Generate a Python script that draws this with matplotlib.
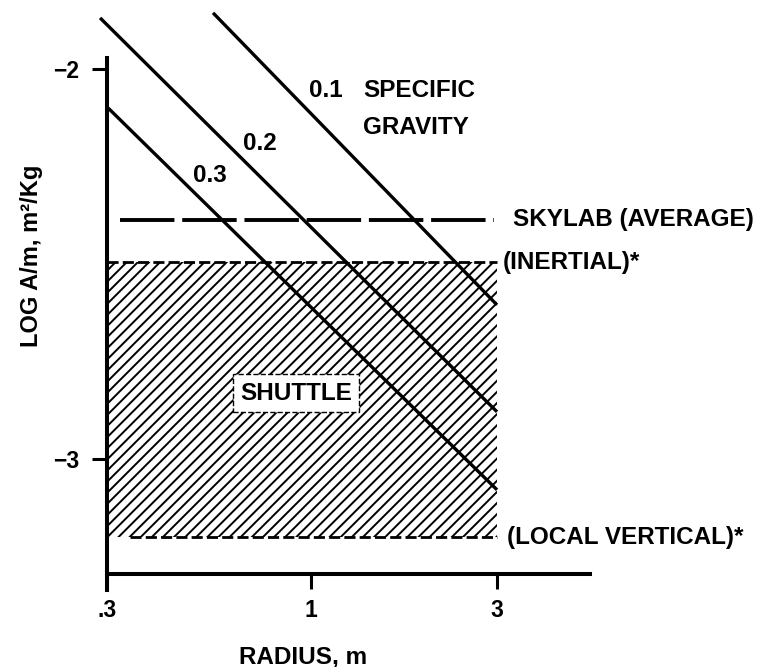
import numpy as np
import matplotlib
matplotlib.use('Agg')
import matplotlib.pyplot as plt
from matplotlib.ticker import FixedLocator, NullLocator

plt.rcParams['font.family'] = ['Liberation Sans', 'DejaVu Sans']
plt.rcParams['font.weight'] = 'bold'
plt.rcParams['hatch.linewidth'] = 1.4

# specific gravity lines, endpoints (radius m, log A/m)
gravity = ['0.1', '0.2', '0.3']
r_start = [0.561, 0.288, 0.302]
r_end = [3.0, 3.0, 3.0]
am_start = [-1.856, -1.869, -2.100]
am_end = [-2.605, -2.879, -3.079]

# label positions for the gravity values
grav_lab_r = [1.09, 0.741, 0.551]
grav_lab_am = [-2.054, -2.19, -2.272]

skylab_avg = -2.387
skylab_r = [0.323, 2.94]
shuttle_inertial = -2.495
shuttle_local_vert = -3.20
shuttle_r = [0.3, 3.0]

xticks = [0.3, 1, 3]
xticklabels = ['.3', '1', '3']
yticks = [-2, -3]
yticklabels = ['\u22122', '\u22123']

W, H = 764, 667
fig = plt.figure(figsize=(W / 100, H / 100), dpi=100)

# axes placed so .3 -> 107px, 3 -> 497px, -2 -> 69px, -3 -> 459px
xlim = (0.27, 6.0)
ylim = (-3.35, -1.823)
px_dec = 390.0
left_px = 107 + px_dec * np.log10(xlim[0] / 0.3)
right_px = 107 + px_dec * np.log10(xlim[1] / 0.3)
top_px = 69 - px_dec * (ylim[1] + 2)
bot_px = 69 - px_dec * (ylim[0] + 2)
ax = fig.add_axes([left_px / W, 1 - bot_px / H, (right_px - left_px) / W, (bot_px - top_px) / H])
ax.set_xscale('log')
ax.set_xlim(*xlim)
ax.set_ylim(*ylim)
ax.patch.set_alpha(0)

# shuttle hatched band
ax.fill_between(shuttle_r, shuttle_local_vert, shuttle_inertial, facecolor='none',
                edgecolor='black', linewidth=0, hatch='///', zorder=1)
ax.plot(shuttle_r, [shuttle_inertial] * 2, color='black', lw=2.0, dashes=(4, 1.5), zorder=2)
ax.plot([0.343, 3.0], [shuttle_local_vert] * 2, color='black', lw=2.0, dashes=(4, 1.5), zorder=2)

# skylab average
ax.plot(skylab_r, [skylab_avg] * 2, color='black', lw=2.8, dashes=(14, 2.0), zorder=2)

for i in range(3):
    ax.plot([r_start[i], r_end[i]], [am_start[i], am_end[i]], color='black', lw=2.4,
            solid_capstyle='butt', zorder=3, clip_on=False)
    ax.text(grav_lab_r[i], grav_lab_am[i], gravity[i], fontsize=17.5, ha='center', va='center')

ax.text(1.36, -2.054, 'SPECIFIC', fontsize=17.5, ha='left', va='center')
ax.text(1.36, -2.149, 'GRAVITY', fontsize=17.5, ha='left', va='center')
ax.text(3.30, skylab_avg, 'SKYLAB (AVERAGE)', fontsize=17.5, ha='left', va='center')
ax.text(3.11, shuttle_inertial, '(INERTIAL)*', fontsize=17.5, ha='left', va='center')
ax.text(3.18, shuttle_local_vert, '(LOCAL VERTICAL)*', fontsize=17.5, ha='left', va='center')
ax.text(0.915, -2.831, 'SHUTTLE', fontsize=17.5, ha='center', va='center', zorder=4,
        bbox=dict(boxstyle='square,pad=0.3', fc='white', ec='black', lw=1.0, ls='--'))

# axes
for s in ['top', 'right']:
    ax.spines[s].set_visible(False)
ax.spines['left'].set_position(('data', 0.3))
ax.spines['left'].set_bounds(-3.336, -1.972)
ax.spines['bottom'].set_position(('data', -3.295))
ax.spines['bottom'].set_bounds(0.3, 5.19)
for s in ['left', 'bottom']:
    ax.spines[s].set_linewidth(2.9)
ax.xaxis.set_major_locator(FixedLocator(xticks))
ax.xaxis.set_minor_locator(NullLocator())
ax.set_xticklabels(xticklabels, fontsize=16.5)
ax.set_yticks(yticks)
ax.set_yticklabels(yticklabels, fontsize=16.5)
ax.tick_params(axis='both', direction='out', length=11, width=2.2, pad=7)
ax.tick_params(axis='y', pad=9)

fig.text(32 / W, 1 - 256 / H, 'LOG A/m, m\u00b2/Kg', rotation=90, fontsize=17,
         ha='center', va='center')
fig.text(303 / W, 1 - 657 / H, 'RADIUS, m', fontsize=17.5, ha='center', va='center')

fig.savefig('out.png', dpi=100)
